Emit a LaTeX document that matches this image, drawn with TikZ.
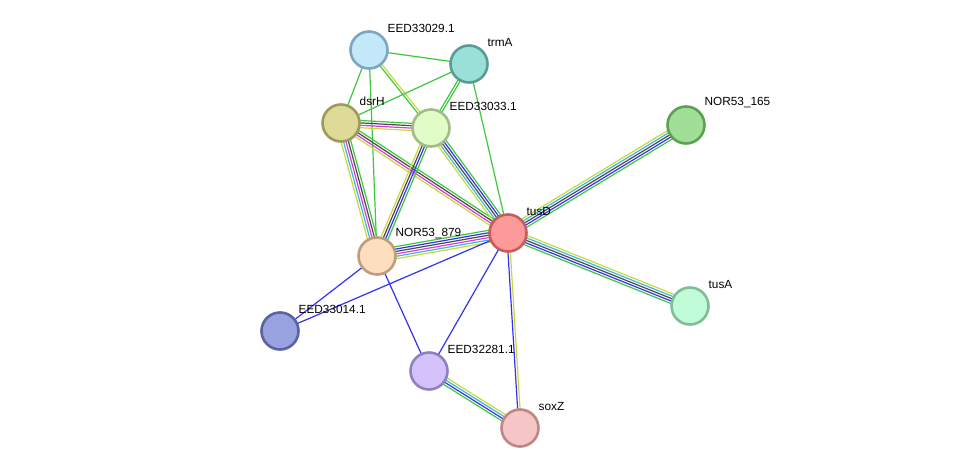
\documentclass[tikz,border=0pt]{standalone}
\usepackage{fontspec}
\setmainfont{Liberation Sans}
\usetikzlibrary{positioning,calc,backgrounds}

\definecolor{nbh}{HTML}{3CC83C}
\definecolor{txt}{HTML}{C8D83C}
\definecolor{coex}{HTML}{4A4A4A}
\definecolor{expt}{HTML}{D83CD8}
\definecolor{dbs}{HTML}{3CB8D8}
\definecolor{cooc}{HTML}{3232F0}

\definecolor{fillA}{HTML}{C2E8FA}\definecolor{lineA}{HTML}{7EA6C2}
\definecolor{fillB}{HTML}{99E0D8}\definecolor{lineB}{HTML}{5A9B95}
\definecolor{fillC}{HTML}{DEDB99}\definecolor{lineC}{HTML}{9F9A5A}
\definecolor{fillD}{HTML}{E2FCC8}\definecolor{lineD}{HTML}{A3BB85}
\definecolor{fillE}{HTML}{A0E096}\definecolor{lineE}{HTML}{5DA055}
\definecolor{fillF}{HTML}{FC9A9A}\definecolor{lineF}{HTML}{C55D5D}
\definecolor{fillG}{HTML}{FDDFC0}\definecolor{lineG}{HTML}{BD9D7E}
\definecolor{fillH}{HTML}{98A2E0}\definecolor{lineH}{HTML}{5863A0}
\definecolor{fillI}{HTML}{C0FCD8}\definecolor{lineI}{HTML}{7FBD99}
\definecolor{fillJ}{HTML}{D3C3FA}\definecolor{lineJ}{HTML}{9180C0}
\definecolor{fillK}{HTML}{F6C5C5}\definecolor{lineK}{HTML}{BD8787}

% parallel coloured links: from, to, colours, how many
\newcommand{\linkset}[4]{%
  \foreach \c [count=\i] in {#3} {
    \pgfmathsetmacro\off{(\i-(#4+1)/2)*2.4}
    \draw[link, \c] ($(#1)!\off pt!90:(#2)$) -- ($(#2)!\off pt!-90:(#1)$);
  }%
}

\begin{document}
\begin{tikzpicture}[
    x=1pt, y=-1pt,
    prot/.style={circle, minimum size=37pt, inner sep=0pt, line width=2.6pt},
    lbl/.style={font=\fontsize{11.8}{14}\selectfont, inner sep=3pt, xshift=1.5pt},
    link/.style={line width=1.2pt}
]
\useasboundingbox (0,0) rectangle (975,474);

\node[prot, fill=fillA, draw=lineA, label={[lbl]north east:EED33029.1}] (eed29) at (369,50) {};
\node[prot, fill=fillB, draw=lineB, label={[lbl]north east:trmA}] (trma) at (469,64) {};
\node[prot, fill=fillC, draw=lineC, label={[lbl]north east:dsrH}] (dsrh) at (341,123) {};
\node[prot, fill=fillD, draw=lineD, label={[lbl]north east:EED33033.1}] (eed33) at (431,128) {};
\node[prot, fill=fillE, draw=lineE, label={[lbl]north east:NOR53\_165}] (nor165) at (686,125) {};
\node[prot, fill=fillF, draw=lineF, label={[lbl]north east:tusD}] (tusd) at (508,233) {};
\node[prot, fill=fillG, draw=lineG, label={[lbl]north east:NOR53\_879}] (nor879) at (377,256) {};
\node[prot, fill=fillH, draw=lineH, label={[lbl]north east:EED33014.1}] (eed14) at (280,331) {};
\node[prot, fill=fillI, draw=lineI, label={[lbl]north east:tusA}] (tusa) at (690,306) {};
\node[prot, fill=fillJ, draw=lineJ, label={[lbl]north east:EED32281.1}] (eed81) at (429,371) {};
\node[prot, fill=fillK, draw=lineK, label={[lbl]north east:soxZ}] (soxz) at (520,428) {};

\begin{scope}[on background layer]
\linkset{eed29}{trma}{nbh}{1}
\linkset{eed29}{dsrh}{nbh}{1}
\linkset{eed29}{eed33}{nbh,txt}{2}
\linkset{eed29}{nor879}{nbh}{1}
\linkset{trma}{dsrh}{nbh}{1}
\linkset{trma}{eed33}{nbh,nbh}{2}
\linkset{trma}{tusd}{nbh}{1}
\linkset{eed33}{dsrh}{nbh,coex,expt,txt}{4}
\linkset{tusd}{dsrh}{nbh,coex,expt,txt}{4}
\linkset{nor879}{dsrh}{nbh,coex,expt,dbs,txt}{5}
\linkset{nor879}{eed33}{nbh,cooc,coex,txt}{4}
\linkset{tusd}{eed33}{nbh,cooc,coex,dbs,txt}{5}
\linkset{tusd}{nor879}{nbh,cooc,coex,expt,dbs,txt}{6}
\linkset{tusd}{nor165}{nbh,cooc,coex,dbs,txt}{5}
\linkset{tusd}{tusa}{nbh,cooc,coex,dbs,txt}{5}
\linkset{tusd}{eed14}{cooc}{1}
\linkset{tusd}{eed81}{cooc}{1}
\linkset{tusd}{soxz}{cooc,txt}{2}
\linkset{nor879}{eed14}{cooc}{1}
\linkset{nor879}{eed81}{cooc}{1}
\linkset{eed81}{soxz}{nbh,cooc,dbs,txt}{4}
\end{scope}
\end{tikzpicture}
\end{document}
